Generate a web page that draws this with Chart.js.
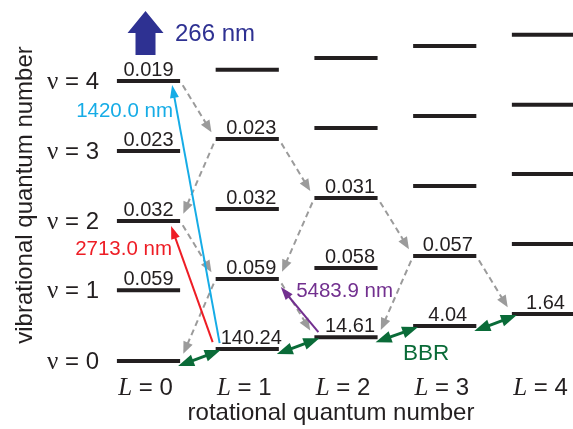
<!DOCTYPE html>
<html>
<head>
<meta charset="utf-8">
<script src="https://cdn.jsdelivr.net/npm/chart.js@4/dist/chart.umd.min.js"></script>
<style>
  html, body { margin: 0; padding: 0; background: #fff; }
  #wrap { width: 573px; height: 429px; }
</style>
</head>
<body>
<div id="wrap"><canvas id="levels" width="573" height="429"></canvas></div>
<script>
// Rotational (L) and vibrational (v) quantum numbers
const rotLabels = ['0', '1', '2', '3', '4'];
const vibLabels = ['0', '1', '2', '3', '4'];

// Level heights, in units of the vibrational spacing
// levelEnergy[L][v]
const levelEnergy = [
  [0.00, 1.01, 2.00, 3.00, 4.00],
  [0.17, 1.17, 2.17, 3.17, 4.16],
  [0.34, 1.33, 2.33, 3.33, 4.33],
  [0.50, 1.50, 2.50, 3.50, 4.50],
  [0.67, 1.67, 2.67, 3.66, 4.66]
];

// Numbers printed above the levels (null = no label)
const populations = [
  [null, '0.059', '0.032', '0.023', '0.019'],
  ['140.24', '0.059', '0.032', '0.023', null],
  ['14.61', '0.058', '0.031', null, null],
  ['4.04', '0.057', null, null, null],
  ['1.64', null, null, null, null]
];

// Spontaneous decays drawn as dashed grey arrows: [L from, v from, L to, v to]
const decays = [
  [0, 4, 1, 3], [1, 3, 0, 2], [1, 3, 2, 2], [0, 2, 1, 1], [1, 1, 0, 0],
  [2, 2, 1, 1], [2, 2, 3, 1], [1, 1, 2, 0], [3, 1, 2, 0], [3, 1, 4, 0]
];

// Laser driven transitions: [L, v] from and to
const laserFrom = [[1, 0], [1, 0], [2, 0]];
const laserTo = [[0, 4], [0, 2], [1, 1]];
const laserNames = ['1420.0 nm', '2713.0 nm', '5483.9 nm'];

// Black body driven couplings between ground state rotational levels
const bbrPairs = [[0, 1], [1, 2], [2, 3], [3, 4]];

// ---- styles ----
const HALF = 0.32;
const SANS = '"Liberation Sans", Arial, sans-serif';
const SERIF = '"Liberation Serif", "Times New Roman", serif';
const laserColors = ['#16ACE6', '#EE1D25', '#72308F'];
// pixel nudges of start / tip for the laser arrows
const laserStartOff = [[4, -6], [-3, -7], [4, -5]];
const laserEndOff = [[-8, 4], [-9, 5], [2, 8]];
const laserLabelPos = [[173, 117], [172, 255], [393, 297]];
const popShift = [0, 4, 4, 3, 2];

const datasets = [];
levelEnergy.forEach((col, L) => {
  col.forEach((e) => {
    datasets.push({
      data: [{ x: L - HALF, y: e }, { x: L + HALF, y: e }],
      showLine: true,
      borderColor: '#231F20',
      borderWidth: 4,
      borderCapStyle: 'butt',
      pointRadius: 0
    });
  });
});

function head(ctx, x0, y0, x1, y1, len, w, color) {
  const a = Math.atan2(y1 - y0, x1 - x0);
  ctx.save();
  ctx.translate(x1, y1);
  ctx.rotate(a);
  ctx.fillStyle = color;
  ctx.beginPath();
  ctx.moveTo(0, 0);
  ctx.lineTo(-len, -w / 2);
  ctx.lineTo(-len, w / 2);
  ctx.closePath();
  ctx.fill();
  ctx.restore();
}

function shaft(ctx, x0, y0, x1, y1, back, color, width, dash) {
  const d = Math.hypot(x1 - x0, y1 - y0);
  const ux = (x1 - x0) / d, uy = (y1 - y0) / d;
  ctx.save();
  ctx.strokeStyle = color;
  ctx.lineWidth = width;
  ctx.setLineDash(dash || []);
  ctx.beginPath();
  ctx.moveTo(x0 + ux * back[0], y0 + uy * back[0]);
  ctx.lineTo(x1 - ux * back[1], y1 - uy * back[1]);
  ctx.stroke();
  ctx.restore();
}

function text(ctx, s, x, y, font, color, align) {
  ctx.save();
  ctx.font = font;
  ctx.fillStyle = color;
  ctx.textAlign = align || 'left';
  ctx.textBaseline = 'alphabetic';
  ctx.fillText(s, x, y);
  ctx.restore();
}

const diagramPlugin = {
  id: 'diagram',
  afterDatasetsDraw(chart) {
    const ctx = chart.ctx;
    const xs = chart.scales.x, ys = chart.scales.y;
    const endX = (L, side) => xs.getPixelForValue(L + side * HALF);
    const lvY = (L, v) => ys.getPixelForValue(levelEnergy[L][v]);

    // dashed decay arrows
    decays.forEach(([l0, v0, l1, v1]) => {
      const s = l1 > l0 ? 1 : -1;
      const x0 = endX(l0, s), y0 = lvY(l0, v0);
      const x1 = endX(l1, -s), y1 = lvY(l1, v1);
      const d = Math.hypot(x1 - x0, y1 - y0);
      const ux = (x1 - x0) / d, uy = (y1 - y0) / d;
      const sx = x0 + ux * 5, sy = y0 + uy * 5;
      const tx = x1 - ux * 8, ty = y1 - uy * 8;
      shaft(ctx, sx, sy, tx, ty, [0, 10], '#9B9B9B', 2, [6, 4]);
      head(ctx, sx, sy, tx, ty, 12, 10, '#9B9B9B');
    });

    // laser arrows
    laserFrom.forEach(([l0, v0], i) => {
      const [l1, v1] = laserTo[i];
      const s = l1 > l0 ? 1 : -1;
      const x0 = endX(l0, s) + laserStartOff[i][0], y0 = lvY(l0, v0) + laserStartOff[i][1];
      const x1 = endX(l1, -s) + laserEndOff[i][0], y1 = lvY(l1, v1) + laserEndOff[i][1];
      shaft(ctx, x0, y0, x1, y1, [0, 8], laserColors[i], 2);
      head(ctx, x0, y0, x1, y1, 13, 9, laserColors[i]);
      text(ctx, laserNames[i], laserLabelPos[i][0], laserLabelPos[i][1],
        '20.5px ' + SANS, laserColors[i], 'right');
    });

    // black body radiation double arrows
    bbrPairs.forEach(([a, b]) => {
      const x0 = endX(a, 1) - 2, y0 = lvY(a, 0) + 5;
      const x1 = endX(b, -1) + 5, y1 = lvY(b, 0) + 1;
      shaft(ctx, x0, y0, x1, y1, [12, 12], '#0A6B38', 3);
      head(ctx, x0, y0, x1, y1, 16, 12, '#0A6B38');
      head(ctx, x1, y1, x0, y0, 16, 12, '#0A6B38');
    });
    text(ctx, 'BBR', 403, 360, '22.5px ' + SANS, '#0A6B38', 'left');

    // numbers above the levels
    populations.forEach((col, L) => {
      col.forEach((p, v) => {
        if (p === null) return;
        text(ctx, p, xs.getPixelForValue(L) + popShift[L], lvY(L, v) - 5, '20px ' + SANS, '#231F20', 'center');
      });
    });

    // vibrational labels (nu = n) at the L = 0 column
    vibLabels.forEach((lab, v) => {
      const y = lvY(0, v) + 8;
      ctx.save();
      ctx.font = '24px ' + SANS;
      const w = ctx.measureText(' = ' + lab).width;
      ctx.restore();
      text(ctx, ' = ' + lab, 99, y, '24px ' + SANS, '#231F20', 'right');
      text(ctx, '\u03BD', 99 - w, y, '25px ' + SERIF, '#231F20', 'right');
    });

    // rotational labels under the columns
    rotLabels.forEach((lab, L) => {
      const cx = xs.getPixelForValue(L) - 3;
      ctx.save();
      ctx.font = 'italic 25px ' + SERIF;
      const wl = ctx.measureText('L').width;
      ctx.font = '24px ' + SANS;
      const wr = ctx.measureText(' = ' + lab).width;
      ctx.restore();
      const left = cx - (wl + wr) / 2;
      text(ctx, 'L', left, 395, 'italic 25px ' + SERIF, '#231F20', 'left');
      text(ctx, ' = ' + lab, left + wl, 395, '24px ' + SANS, '#231F20', 'left');
    });

    // axis titles
    text(ctx, 'rotational quantum number', 331, 420, '24px ' + SANS, '#231F20', 'center');
    ctx.save();
    ctx.translate(32, 195);
    ctx.rotate(-Math.PI / 2);
    text(ctx, 'vibrational quantum number', 0, 0, '24px ' + SANS, '#231F20', 'center');
    ctx.restore();

    // photodissociation arrow out of v = 4
    const bx = xs.getPixelForValue(0) - 3, by = lvY(0, 4) - 26;
    ctx.save();
    ctx.fillStyle = '#2E3192';
    ctx.beginPath();
    ctx.moveTo(bx - 10, by);
    ctx.lineTo(bx - 10, by - 22);
    ctx.lineTo(bx - 18, by - 22);
    ctx.lineTo(bx, by - 44);
    ctx.lineTo(bx + 18, by - 22);
    ctx.lineTo(bx + 10, by - 22);
    ctx.lineTo(bx + 10, by);
    ctx.closePath();
    ctx.fill();
    ctx.restore();
    text(ctx, '266 nm', 175, 41, '24px ' + SANS, '#2E3192', 'left');
  }
};

new Chart(document.getElementById('levels'), {
  type: 'scatter',
  data: { datasets },
  options: {
    responsive: false,
    animation: false,
    layout: { padding: 0 },
    plugins: { legend: { display: false }, tooltip: { enabled: false } },
    scales: {
      x: { type: 'linear', min: -1.504, max: 4.299, display: false },
      y: { type: 'linear', min: -0.971, max: 5.157, display: false }
    }
  },
  plugins: [diagramPlugin]
});
</script>
</body>
</html>
